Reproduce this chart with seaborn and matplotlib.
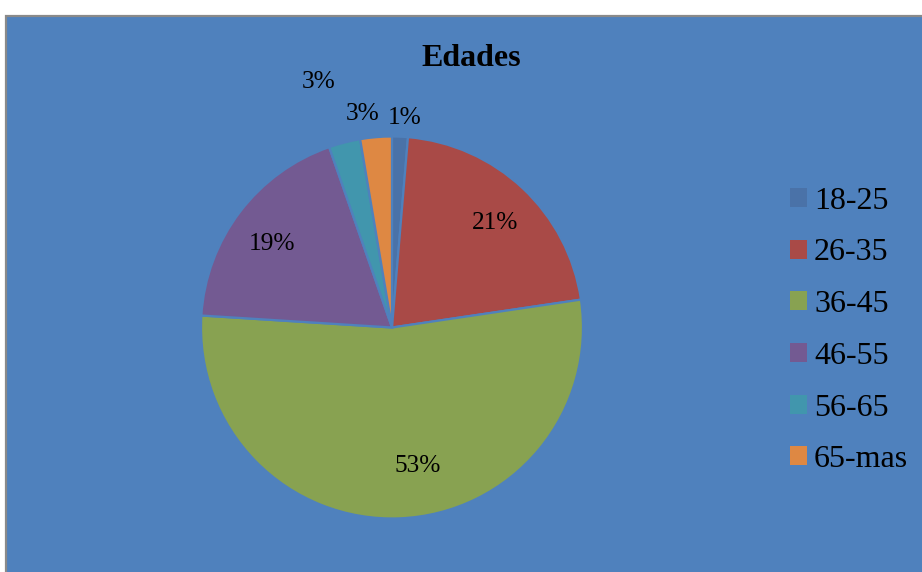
import numpy as np
import matplotlib
matplotlib.use("Agg")
import matplotlib.pyplot as plt
from matplotlib.patches import Rectangle, Patch
import seaborn as sns

# Age groups and respondent counts
categories = ["18-25", "26-35", "36-45", "46-55", "56-65", "65-mas"]
counts = [1, 16, 40, 14, 2, 2]
pct_labels = ["1%", "21%", "53%", "19%", "3%", "3%"]
title_text = "Edades"

slice_colors = ["#4A72A8", "#A94A47", "#88A251", "#735A92", "#4196AD", "#DE8843"]
bg_color = "#4F81BD"

sns.set_style("white")
plt.rcParams["font.family"] = ["Liberation Serif", "DejaVu Serif"]
plt.rcParams["text.color"] = "black"

W, H = 922, 572
fig = plt.figure(figsize=(W / 100, H / 100), dpi=100, facecolor="white")

# chart area panel with grey frame, drawn in a background axes
bg = fig.add_axes([0, 0, 1, 1], zorder=-1)
bg.set_xlim(0, W)
bg.set_ylim(H, 0)
bg.axis("off")
bg.add_patch(Rectangle((5.5, 15.5), W + 20, H + 20, facecolor=bg_color,
                       edgecolor="#8A8A8A", linewidth=1.6))

# pie axes, square in pixels
cx, cy, r = 392, 327.5, 191
ax = fig.add_axes([(cx - r) / W, (H - cy - r) / H, 2 * r / W, 2 * r / H],
                  zorder=1)
ax.set_facecolor("none")
palette = sns.color_palette(slice_colors)
wedges, _ = ax.pie(counts, colors=palette, startangle=90, counterclock=False,
                   radius=1.0,
                   wedgeprops=dict(edgecolor=bg_color, linewidth=1.6))
ax.set_xlim(-1, 1)
ax.set_ylim(-1, 1)
ax.set_aspect("auto")
ax.axis("off")

# percentage labels: radial distance and angular nudge per slice
label_radius = [1.10, 0.77, 0.735, 0.766, 1.34, 1.127]
label_nudge = [-1.1, -1.5, 8.1, 2.6, 2.3, 3.1]
for w, txt, rr, dn in zip(wedges, pct_labels, label_radius, label_nudge):
    ang = np.deg2rad((w.theta1 + w.theta2) / 2 + dn)
    ax.text(rr * np.cos(ang), rr * np.sin(ang), txt, ha="center", va="center",
            fontsize=18.3, color="black", clip_on=False)

fig.text(471.5 / W, 1 - 59 / H, title_text, ha="center", va="center",
         fontsize=23, fontweight="bold", color="black")

handles = [Patch(facecolor=c, edgecolor="none") for c in palette]
leg = fig.legend(handles, categories, loc="center left",
                 bbox_to_anchor=(790 / W, 1 - 330.5 / H), frameon=False,
                 fontsize=23, handlelength=0.53, handleheight=0.53,
                 handletextpad=0.22, labelspacing=0.71, borderpad=0,
                 borderaxespad=0)
for t in leg.get_texts():
    t.set_color("black")

fig.savefig("out.png", dpi=100, facecolor="white")
